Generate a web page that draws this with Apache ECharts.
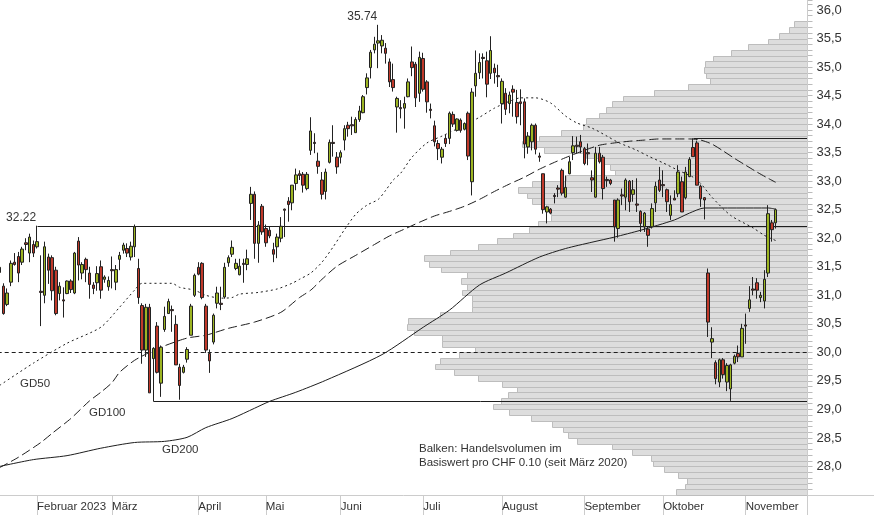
<!DOCTYPE html>
<html>
<head>
<meta charset="utf-8">
<script src="https://cdn.jsdelivr.net/npm/echarts@6/dist/echarts.min.js"></script>
<style>
html,body{margin:0;padding:0;background:#fff;}
#chart{width:874px;height:515px;}
</style>
</head>
<body>
<div id="chart"></div>
<script>
// ---------- DATA ----------
const monthNames = ['Januar', 'Februar 2023', 'März', 'April', 'Mai', 'Juni', 'Juli', 'August', 'September', 'Oktober', 'November'];
// Swiss trading days shown (Jan 18 2023 .. Nov 23 2023)
const tradingDays = [
  [18,19,20,23,24,25,26,27,30,31],
  [1,2,3,6,7,8,9,10,13,14,15,16,17,20,21,22,23,24,27,28],
  [1,2,3,6,7,8,9,10,13,14,15,16,17,20,21,22,23,24,27,28,29,30,31],
  [3,4,5,6,11,12,13,14,17,18,19,20,21,24,25,26,27,28],
  [2,3,4,5,8,9,10,11,12,15,16,17,19,22,23,24,25,26,30,31],
  [1,2,5,6,7,8,9,12,13,14,15,16,19,20,21,22,23,26,27,28,29,30],
  [3,4,5,6,7,10,11,12,13,14,17,18,19,20,21,24,25,26,27,28,31],
  [2,3,4,7,8,9,10,11,14,15,16,17,18,21,22,23,24,25,28,29,30,31],
  [1,4,5,6,7,8,11,12,13,14,15,18,19,20,21,22,25,26,27,28,29],
  [2,3,4,5,6,9,10,11,12,13,16,17,18,19,20,23,24,25,26,27,30,31],
  [1,2,3,6,7,8,9,10,13,14,15,16,17,20,21,22,23]
];

// daily candles: [open, close, low, high]
const ohlc = [
  // Jan
  [31.40,31.49,31.35,31.55],[31.16,30.68,30.66,31.21],[30.84,31.04,30.81,31.12],[31.23,31.56,31.16,31.61],
  [31.58,31.54,31.52,31.74],[31.68,31.39,31.23,31.76],[31.58,31.81,31.53,31.85],[31.92,31.89,31.79,32.00],
  [31.74,32.02,31.58,32.08],[31.89,31.74,31.67,31.96],
  // Feb
  [31.85,31.94,31.82,32.22],[31.07,31.05,30.46,31.70],[31.00,31.85,30.86,31.94],[31.67,31.44,31.20,31.73],
  [31.66,31.08,30.91,31.70],[31.44,30.68,30.65,31.50],[31.03,31.16,30.91,31.23],[30.92,30.90,30.61,31.14],
  [31.03,31.25,31.02,31.26],[31.25,31.10,31.04,31.28],[31.04,31.74,31.02,31.76],[31.95,31.53,31.26,32.02],
  [31.39,31.54,31.28,31.58],[31.63,31.45,31.23,31.66],[31.39,31.19,30.94,31.50],[31.18,31.12,31.02,31.23],
  [31.22,31.38,31.08,31.51],[31.50,31.09,30.94,31.61],[31.28,31.32,31.22,31.35],[31.15,31.26,31.08,31.33],
  // Mar
  [31.45,31.43,31.12,31.68],[31.23,31.45,31.09,31.53],[31.63,31.70,31.44,31.76],[31.79,31.88,31.73,31.92],
  [31.82,31.74,31.67,31.91],[31.67,31.86,31.61,31.94],[31.85,32.20,31.67,32.24],[31.47,30.96,30.85,31.64],
  [30.82,30.04,29.80,30.86],[30.04,30.79,29.92,30.85],[30.79,29.29,29.29,30.85],[29.89,30.07,29.14,30.09],
  [30.46,29.65,29.63,30.53],[29.46,30.09,29.22,30.12],[30.40,30.63,30.36,30.80],[30.68,30.89,30.68,30.94],
  [30.75,30.73,30.36,30.82],[30.49,29.78,29.78,30.65],[29.74,29.42,29.17,29.80],[29.65,29.74,29.63,29.78],
  [29.88,30.05,29.82,30.09],[30.30,30.81,30.30,30.85],[31.00,31.35,30.97,31.38],
  // Apr
  [31.49,31.37,31.35,31.58],[31.56,30.96,30.93,31.58],[30.81,30.04,29.99,30.85],[29.98,29.85,29.64,30.05],
  [30.18,30.65,30.14,30.68],[30.86,31.04,30.77,31.15],[30.86,30.84,30.74,31.15],[30.97,31.49,30.94,31.57],
  [31.57,31.66,31.50,31.70],[31.72,31.84,31.67,31.96],[31.47,31.56,31.44,31.64],[31.36,31.51,31.35,31.64],
  [31.56,31.54,31.22,31.64],[31.54,31.64,31.44,31.80],[32.61,32.77,32.32,32.90],[32.77,31.91,31.64,32.82],
  [31.91,32.23,31.57,32.30],[32.56,32.11,32.06,32.60],
  // May
  [32.17,31.92,31.85,32.24],[32.14,32.04,32.00,32.21],[31.80,31.72,31.58,31.92],[31.85,32.02,31.65,32.08],
  [32.00,32.21,31.93,32.37],[32.51,32.49,32.02,32.52],[32.65,32.59,32.29,32.72],[32.62,32.93,32.49,32.93],
  [32.96,33.11,32.84,33.22],[33.13,33.10,33.02,33.19],[33.12,32.93,32.80,33.16],[32.87,33.12,32.84,33.16],
  [33.54,33.88,33.46,34.12],[33.68,33.66,33.49,33.84],[33.35,33.26,33.13,33.50],[33.02,32.77,32.68,33.16],
  [32.82,33.16,32.68,33.22],[33.33,33.68,33.31,33.73],[33.68,33.66,33.43,33.98],[33.42,33.25,33.13,33.51],
  // Jun
  [33.42,33.50,33.31,33.54],[33.72,33.92,33.54,33.98],[33.98,33.92,33.78,34.04],[33.99,33.97,33.81,34.13],
  [33.85,34.08,33.85,34.12],[34.08,34.23,34.04,34.32],[34.20,34.48,34.19,34.51],[34.64,34.81,34.52,34.89],
  [34.99,35.26,34.80,35.30],[35.30,35.40,35.24,35.53],[35.42,35.46,34.98,35.74],[35.37,35.47,35.24,35.56],
  [35.33,35.24,35.06,35.42],[35.09,34.74,34.65,35.15],[34.78,34.64,34.57,35.06],[34.30,34.45,33.85,34.48],
  [34.29,34.27,34.10,34.42],[34.28,34.36,33.92,34.48],[34.48,34.74,34.47,34.80],[35.09,34.99,34.84,35.36],
  [35.05,34.46,34.30,35.09],[34.54,35.17,34.39,35.27],
  // Jul
  [35.15,34.61,34.57,35.25],[34.74,34.39,34.20,34.77],[34.26,34.24,34.10,34.36],[33.97,33.69,33.61,34.06],
  [33.66,33.57,33.37,33.72],[33.42,33.56,33.31,33.60],[33.75,33.66,33.60,33.81],[33.75,34.19,33.65,34.22],
  [34.17,34.00,33.95,34.22],[33.89,34.09,33.87,34.10],[34.07,33.89,33.85,34.10],[33.91,34.01,33.89,34.03],
  [34.19,33.44,33.37,34.22],[32.99,34.56,32.75,34.63],[34.67,34.89,34.48,35.29],[34.90,35.08,34.79,35.24],
  [35.17,35.15,34.80,35.24],[35.11,34.70,34.47,35.27],[34.89,35.29,34.79,35.54],[34.98,34.90,34.71,35.06],
  [34.85,34.83,34.65,35.04],
  // Aug
  [34.36,34.75,34.01,34.80],[34.54,34.26,34.16,34.63],[34.36,34.51,34.19,34.57],[34.61,34.56,34.13,34.68],
  [34.38,34.13,34.01,34.60],[34.39,34.36,33.98,34.61],[34.39,33.65,33.40,34.45],[33.60,33.79,33.48,33.86],
  [33.69,33.98,33.54,34.01],[33.98,33.56,33.47,34.01],[33.44,33.42,33.34,33.50],[33.13,32.50,32.43,33.13],
  [32.46,32.55,32.26,32.56],[32.51,32.44,32.42,32.53],[32.75,32.73,32.61,32.79],[32.88,32.86,32.72,32.93],
  [33.19,32.79,32.75,33.22],[32.72,32.89,32.71,33.10],[33.13,33.34,33.12,33.43],[33.50,33.62,33.37,33.79],
  [33.63,33.61,33.49,33.78],[33.69,33.60,33.49,33.81],
  // Sep
  [33.57,33.31,33.28,33.60],[33.50,33.48,33.28,33.66],[33.06,33.02,32.81,33.19],[32.72,33.49,32.71,33.60],
  [33.49,33.34,33.31,33.60],[33.42,32.87,32.68,33.46],[33.03,33.01,32.90,33.08],[33.02,32.96,32.93,33.04],
  [32.67,32.20,31.94,32.67],[32.17,32.67,32.01,32.70],[32.76,32.74,32.58,32.87],[32.72,33.02,32.49,33.05],
  [33.00,32.64,32.46,33.02],[32.77,32.85,32.64,33.02],[32.60,32.58,32.46,33.05],[32.47,32.26,32.11,32.49],
  [32.20,32.44,32.11,32.46],[32.16,32.05,31.85,32.20],[32.20,32.52,32.17,32.61],[32.62,32.91,32.46,32.99],
  [33.02,32.84,32.81,33.25],
  // Oct
  [32.94,32.92,32.72,33.19],[32.85,32.64,32.46,32.87],[32.40,32.59,32.32,32.75],[32.70,32.67,32.67,32.84],
  [32.78,33.16,32.72,33.28],[32.99,32.46,32.46,33.08],[32.71,33.16,32.68,33.25],[33.08,33.38,33.07,33.42],
  [33.59,33.43,33.43,33.75],[33.67,32.93,32.93,33.71],[32.91,32.69,32.55,32.94],[32.71,32.67,32.33,32.72],
  [31.39,30.53,30.27,31.47],[30.18,30.24,29.90,30.44],[29.82,29.54,29.44,29.86],[29.48,29.87,29.39,29.89],
  [29.87,29.61,29.54,29.90],[29.48,29.77,29.32,29.81],[29.36,29.78,29.15,29.80],[29.81,29.93,29.79,29.96],
  [29.98,29.92,29.83,30.12],[29.92,30.42,29.92,30.50],
  // Nov
  [30.48,30.46,30.15,30.68],[30.77,30.92,30.71,31.16],[31.11,31.09,31.00,31.32],[31.22,31.09,30.94,31.30],
  [30.96,31.00,30.88,31.06],[30.90,31.28,30.77,31.44],[31.39,32.43,31.32,32.58],[32.27,32.15,31.94,32.32],
  [32.27,32.50,32.17,32.52]
];

// moving averages: [trading-day index, value]
const gd50 = [[0,29.42],[9,29.81],[18,30.16],[27,30.44],[32,30.79],[36,31.09],[38,31.21],[46,31.21],[48,31.14],
  [52,31.09],[55,31.00],[59,30.95],[62,30.96],[64,31.02],[69,31.05],[74,31.11],[78,31.21],[80,31.28],[83,31.39],
  [86,31.58],[89,31.85],[92,32.15],[95,32.42],[98,32.58],[101,32.68],[103,32.84],[105,33.02],[107,33.14],
  [110,33.42],[114,33.67],[118,33.79],[124,33.98],[128,34.12],[132,34.28],[136,34.40],[139,34.46],[143,34.46],
  [147,34.37],[151,34.14],[154,34.02],[158,33.93],[162,33.79],[165,33.68],[170,33.54],[173,33.44],[177,33.32],
  [181,33.19],[185,33.07],[187,32.96],[190,32.72],[195,32.40],[201,32.18],[204,32.05],[207,31.96]];
const gd100 = [[0,27.98],[5,28.16],[11,28.42],[14,28.58],[19,28.84],[24,29.15],[27,29.30],[30,29.47],[32,29.65],
  [36,29.86],[40,30.00],[43,30.09],[50,30.25],[55,30.30],[61,30.42],[68,30.53],[75,30.70],[80,30.96],[83,31.09],
  [86,31.28],[90,31.51],[95,31.70],[100,31.89],[104,32.04],[108,32.16],[112,32.28],[116,32.39],[120,32.47],
  [124,32.56],[128,32.68],[132,32.82],[136,32.95],[140,33.07],[144,33.21],[148,33.33],[152,33.44],[156,33.54],
  [160,33.63],[164,33.67],[168,33.70],[172,33.72],[176,33.74],[180,33.74],[184,33.74],[187,33.72],[190,33.65],
  [193,33.53],[196,33.40],[199,33.28],[202,33.16],[205,33.05],[207,32.98]];
const gd200 = [[0,28.00],[9,28.12],[18,28.19],[27,28.32],[36,28.42],[44,28.44],[50,28.51],[55,28.68],[62,28.84],
  [68,29.02],[72,29.14],[79,29.30],[87,29.51],[102,29.96],[113,30.44],[120,30.74],[128,31.18],[135,31.39],
  [144,31.67],[151,31.82],[158,31.93],[164,32.02],[171,32.14],[180,32.32],[184,32.44],[188,32.53],[205,32.53],
  [207,32.51]];

// horizontal price levels starting at a trading day: [index, price]
const levelLines = [[10,32.22],[41,29.14],[185,33.75]];
const labelledPrices = [[10,32.22],[101,35.74]];
const dashedLevel = 30.0;

// volume profile: lower bound of CHF 0.10 bucket and relative volume (% of max width)
const profilePrice = [35.7,35.6,35.5,35.4,35.3,35.2,35.1,35.0,34.9,34.8,34.7,34.6,34.5,34.4,34.3,34.2,34.1,34.0,
  33.9,33.8,33.7,33.6,33.5,33.4,33.3,33.2,33.1,33.0,32.9,32.8,32.7,32.6,32.5,32.4,32.3,32.2,32.1,32.0,31.9,31.8,
  31.7,31.6,31.5,31.4,31.3,31.2,31.1,31.0,30.9,30.8,30.7,30.6,30.5,30.4,30.3,30.2,30.1,30.0,29.9,29.8,29.7,29.6,
  29.5,29.4,29.3,29.2,29.1,29.0,28.9,28.8,28.7,28.6,28.5,28.4,28.3,28.2,28.1,28.0,27.9,27.8,27.7,27.6,27.5];
const profileVolume = [1.7,2.3,3.5,4.9,7.4,9.4,11.7,12.6,12.8,12.5,12.1,14.8,19.0,22.8,24.2,24.9,25.8,27.3,
  27.7,30.5,33.1,35.2,32.5,27.4,25.2,24.4,23.8,29.8,34.0,35.7,34.6,34.0,32.3,31.7,31.7,33.3,34.4,36.4,38.3,40.7,
  44.2,47.3,46.8,45.2,42.1,42.8,42.1,42.7,41.4,41.4,41.4,45.4,49.3,49.4,48.6,45.1,45.1,41.0,43.0,45.4,46.0,43.6,
  40.7,37.7,35.9,37.0,37.9,38.8,36.9,34.1,31.6,30.2,29.6,28.5,24.1,21.7,19.3,19.1,17.7,16.0,14.9,15.1,16.3];
const profileStep = 0.1;

const yTicks = {min: 27.5, max: 36.175, step: 0.5};

// ---------- BUILD ----------
const categories = [];
const monthOfIndex = [];
tradingDays.forEach((days, m) => {
  days.forEach(d => {
    categories.push('2023-' + String(m + 1).padStart(2, '0') + '-' + String(d).padStart(2, '0'));
    monthOfIndex.push(m);
  });
});
const isMonthStart = i => i > 0 && monthOfIndex[i] !== monthOfIndex[i - 1];

const FONT = "'Liberation Sans', Arial, sans-serif";
const TXT = '#333333';
const LINE = '#1e1e1e';
const GRID = {left: -2.3, width: 809.8, top: 0, height: 495};
const RIGHT = GRID.left + GRID.width;
const BOTTOM = GRID.top + GRID.height;

const chart = echarts.init(document.getElementById('chart'), null, {renderer: 'canvas'});

const option = {
  animation: false,
  backgroundColor: '#ffffff',
  textStyle: {fontFamily: FONT},
  grid: Object.assign({containLabel: false, outerBoundsMode: 'none'}, GRID),
  xAxis: [{
    type: 'category',
    data: categories,
    boundaryGap: true,
    axisLine: {show: true, lineStyle: {color: '#cccccc', width: 1}},
    axisTick: {show: true, alignWithLabel: true, interval: i => isMonthStart(i), length: 20, lineStyle: {color: '#cccccc'}},
    axisLabel: {
      show: true, interval: i => isMonthStart(i), align: 'left', margin: 6,
      color: TXT, fontSize: 11.5, fontFamily: FONT,
      formatter: (v, i) => monthNames[monthOfIndex[i]]
    },
    splitLine: {show: false}
  }, {
    type: 'value', gridIndex: 0, position: 'top', inverse: true, min: 0, max: 100, show: false
  }],
  yAxis: [{
    type: 'value', position: 'right',
    min: yTicks.min, max: yTicks.max, interval: yTicks.step,
    axisLine: {show: false},
    axisTick: {show: true, length: 5, lineStyle: {color: '#bbbbbb'}},
    minorTick: {show: true, splitNumber: 5, length: 5, lineStyle: {color: '#bbbbbb'}},
    splitLine: {show: false},
    minorSplitLine: {show: false},
    axisLabel: {
      margin: 9, color: TXT, fontSize: 13, fontFamily: FONT,
      formatter: v => (Math.abs(v - yTicks.min) < 1e-6 ? '' : v.toFixed(1).replace('.', ','))
    }
  }],
  series: [
    {
      name: 'profile', type: 'custom', xAxisIndex: 1, yAxisIndex: 0, z: 1, silent: true,
      data: profilePrice.map((p, i) => [profileVolume[i], p]),
      encode: {x: 0, y: 1},
      renderItem: (params, api) => {
        const vol = api.value(0), lo = api.value(1);
        const a = api.coord([vol, lo + profileStep]);
        const b = api.coord([0, lo]);
        return {
          type: 'rect',
          shape: {x: Math.round(a[0]) + 0.5, y: Math.round(a[1]) + 0.5, width: Math.round(b[0]) - Math.round(a[0]) - 1, height: Math.round(b[1]) - Math.round(a[1])},
          style: {fill: '#dddddd', stroke: '#bdbdbd', lineWidth: 1}
        };
      }
    },
    {
      name: 'levels', type: 'custom', xAxisIndex: 0, yAxisIndex: 0, z: 3, silent: true,
      data: levelLines,
      encode: {x: 0, y: 1},
      renderItem: (params, api) => {
        const p = api.coord([api.value(0), api.value(1)]);
        const right = params.coordSys.x + params.coordSys.width;
        const y = Math.round(p[1]) + 0.5;
        return {type: 'line', shape: {x1: Math.round(p[0]) + 0.5, y1: y, x2: right, y2: y}, style: {stroke: LINE, lineWidth: 1}};
      }
    },
    {
      name: 'GD200', type: 'line', data: gd200, showSymbol: false, smooth: 0.25, z: 4, silent: true,
      lineStyle: {color: LINE, width: 1, type: 'solid'}
    },
    {
      name: 'GD100', type: 'line', data: gd100, showSymbol: false, smooth: 0.25, z: 4, silent: true,
      lineStyle: {color: LINE, width: 1, type: [9, 4]}
    },
    {
      name: 'GD50', type: 'line', data: gd50, showSymbol: false, smooth: 0.25, z: 4, silent: true,
      lineStyle: {color: LINE, width: 1, type: [2, 3]}
    },
    {
      name: 'Kurs', type: 'candlestick', data: ohlc, z: 5, barWidth: 3, silent: true,
      itemStyle: {
        color: '#9cb422', color0: '#c0392a',
        borderColor: '#222222', borderColor0: '#222222', borderColorDoji: '#222222', borderWidth: 1
      },
      markLine: {
        silent: true, animation: false, symbol: ['none', 'none'],
        label: {show: false},
        lineStyle: {color: LINE, width: 1, type: [4, 3]},
        data: [{yAxis: dashedLevel}]
      }
    },
    {
      name: 'labels', type: 'custom', xAxisIndex: 0, yAxisIndex: 0, z: 6, silent: true,
      data: labelledPrices,
      encode: {x: 0, y: 1},
      renderItem: (params, api) => {
        const p = api.coord([api.value(0), api.value(1)]);
        return {
          type: 'text', x: p[0] - 1, y: p[1] - 2,
          style: {text: api.value(1).toFixed(2), align: 'right', verticalAlign: 'bottom', fill: TXT, font: '12px ' + FONT}
        };
      }
    }
  ],
  graphic: [
    {type: 'line', shape: {x1: RIGHT, y1: 0, x2: RIGHT, y2: 515}, style: {stroke: '#cccccc', lineWidth: 1}, z: 10},
    {type: 'line', shape: {x1: RIGHT, y1: BOTTOM + 0.5, x2: 874, y2: BOTTOM + 0.5}, style: {stroke: '#cccccc', lineWidth: 1}, z: 10},
    {type: 'text', x: 20, y: 384, style: {text: 'GD50', font: '11.5px ' + FONT, fill: TXT, verticalAlign: 'middle'}, z: 10},
    {type: 'text', x: 89, y: 413, style: {text: 'GD100', font: '11.5px ' + FONT, fill: TXT, verticalAlign: 'middle'}, z: 10},
    {type: 'text', x: 162, y: 450, style: {text: 'GD200', font: '11.5px ' + FONT, fill: TXT, verticalAlign: 'middle'}, z: 10},
    {type: 'text', x: 419, y: 449, style: {text: 'Balken: Handelsvolumen im', font: '11.5px ' + FONT, fill: TXT, verticalAlign: 'middle'}, z: 10},
    {type: 'text', x: 419, y: 463, style: {text: 'Basiswert pro CHF 0.10 (seit März 2020)', font: '11.5px ' + FONT, fill: TXT, verticalAlign: 'middle'}, z: 10}
  ]
};
chart.setOption(option);
</script>
</body>
</html>
